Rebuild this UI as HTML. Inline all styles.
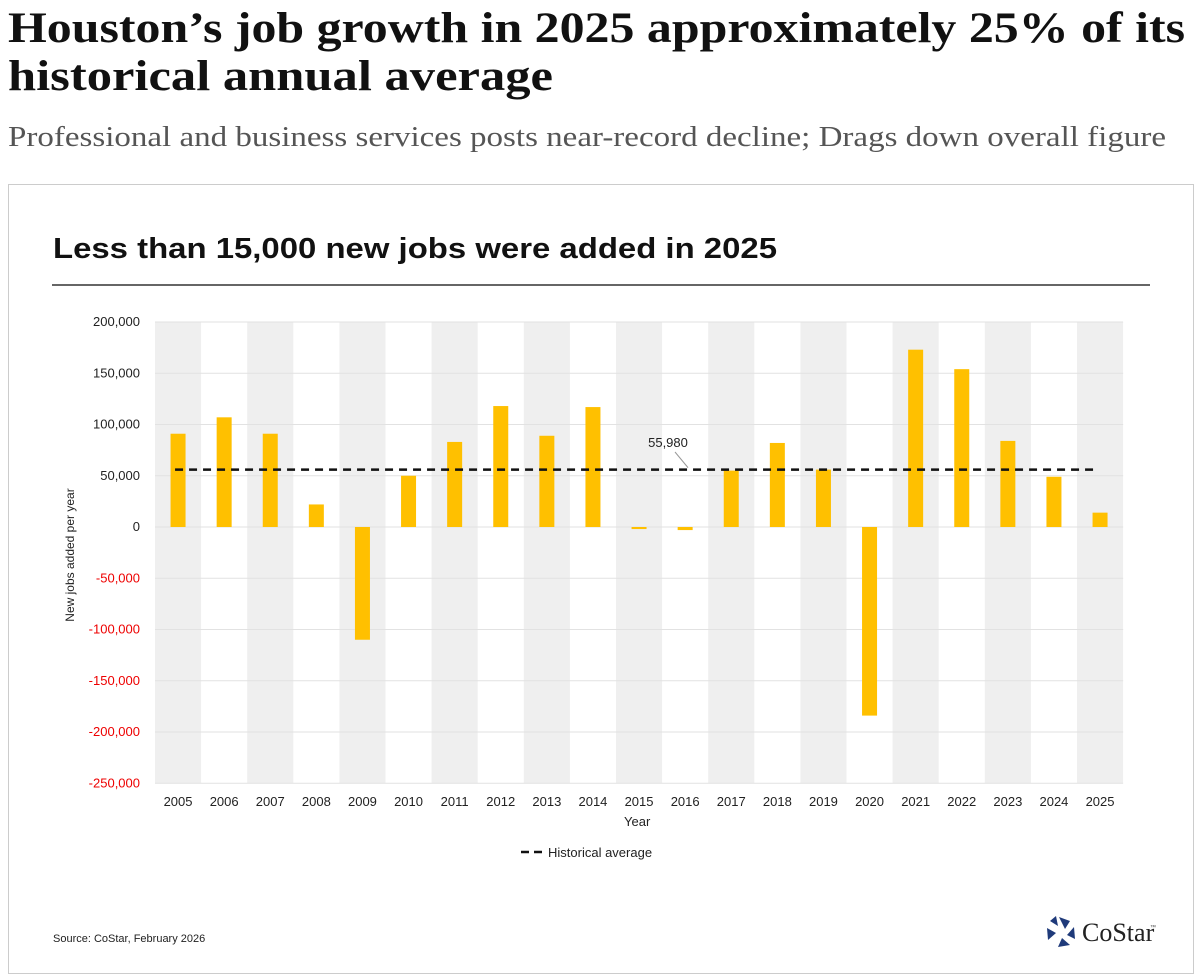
<!DOCTYPE html>
<html><head><meta charset="utf-8"><style>
body{margin:0;background:#fff;width:1204px;height:980px;overflow:hidden;position:relative;font-family:"Liberation Sans",sans-serif}
.box{position:absolute;left:8px;top:184px;width:1186px;height:790px;border:1px solid #ccc;box-sizing:border-box}
</style></head><body>
<div class="box"></div>
<svg id="chart" width="1204" height="980" style="position:absolute;left:0;top:0">
<text x="8" y="42" font-family="Liberation Serif,serif" font-weight="bold" font-size="43" fill="#111" textLength="1177" lengthAdjust="spacingAndGlyphs">Houston’s job growth in 2025 approximately 25% of its</text>
<text x="8" y="90" font-family="Liberation Serif,serif" font-weight="bold" font-size="43" fill="#111" textLength="545" lengthAdjust="spacingAndGlyphs">historical annual average</text>
<text x="8" y="146" font-family="Liberation Serif,serif" font-size="29" fill="#555" textLength="1158" lengthAdjust="spacingAndGlyphs">Professional and business services posts near-record decline; Drags down overall figure</text>
<text x="53" y="258" font-size="29" font-weight="bold" fill="#111" textLength="724" lengthAdjust="spacingAndGlyphs">Less than 15,000 new jobs were added in 2025</text>
<line x1="52" y1="285" x2="1150" y2="285" stroke="#333" stroke-width="1.5"/>
<g id="g"></g>
<text x="624" y="826" font-size="13" fill="#222">Year</text>
<text transform="translate(74,555) rotate(-90)" text-anchor="middle" font-size="12" fill="#222">New jobs added per year</text>
<line x1="521" y1="852" x2="546" y2="852" stroke="#111" stroke-width="2.5" stroke-dasharray="8,5"/>
<text x="548" y="857" font-size="13" fill="#222">Historical average</text>
<text x="53" y="942" font-size="11" fill="#222">Source: CoStar, February 2026</text>
<g transform="translate(1062,932)">
<polygon points="-3,-15 8,-11 3,-3" fill="#1f3a7a"/><polygon points="12,-5 13,7 5,3" fill="#1f3a7a"/><polygon points="8,13 -4,15 0,6" fill="#1f3a7a"/><polygon points="-14,8 -15,-4 -6,1" fill="#1f3a7a"/><polygon points="-12,-11 -6,-16 -4,-6" fill="#1f3a7a"/>
<text x="20" y="9" font-family="Liberation Serif,serif" font-size="26" fill="#222">CoStar</text><text x="88" y="-3" font-size="6" fill="#444">™</text></g>
</svg>
<script>
const years=["2005","2006","2007","2008","2009","2010","2011","2012","2013","2014","2015","2016","2017","2018","2019","2020","2021","2022","2023","2024","2025"];
const jobs=[91000,107000,91000,22000,-110000,50000,83000,118000,89000,117000,-2000,-3000,55000,82000,56000,-184000,173000,154000,84000,49000,14000];
const yTicks=[200000,150000,100000,50000,0,-50000,-100000,-150000,-200000,-250000];
const average=[55980];
const NS="http://www.w3.org/2000/svg",g=document.getElementById('g');
const x0=155,step=46.1,y=v=>527-v*0.001025,xc=i=>x0+step*(i+0.5);
function mk(t,a,p){const e=document.createElementNS(NS,t);for(const k in a)e.setAttribute(k,a[k]);(p||g).appendChild(e);return e;}
years.forEach((yr,i)=>{if(i%2==0){const r=mk('rect',{x:x0+step*i,y:y(200000),width:step,height:y(-250000)-y(200000),fill:'#efefef'});

}});
yTicks.forEach(v=>{const l=mk('line',{x1:x0,x2:x0+step*years.length,y1:y(v),y2:y(v),stroke:'#e2e2e2'});


const t=mk('text',{x:140,y:y(v)+4,'text-anchor':'end','font-size':13,fill:v<0?'#e00':'#222'});t.textContent=v.toLocaleString('en-US');

});
years.forEach((yr,i)=>{const v=jobs[i];const b=mk('rect',{x:xc(i)-7.5,y:Math.min(y(v),y(0)),width:15,height:Math.max(1.5,Math.abs(y(v)-y(0))),fill:'#ffc000'});


const t=mk('text',{x:xc(i),y:806,'text-anchor':'middle','font-size':13,fill:'#222'});t.textContent=yr;

});
const a=average[0];
const l=mk('line',{x1:xc(0)-3,x2:xc(20)-7,y1:y(a),y2:y(a),stroke:'#111','stroke-width':2.5,'stroke-dasharray':'8,6'});


const ll=mk('line',{x1:675,y1:452,x2:688,y2:y(a)-2,stroke:'#999'});


const at=mk('text',{x:668,y:447,'text-anchor':'middle','font-size':13,fill:'#222'});at.textContent=a.toLocaleString('en-US');


</script>
</body></html>
